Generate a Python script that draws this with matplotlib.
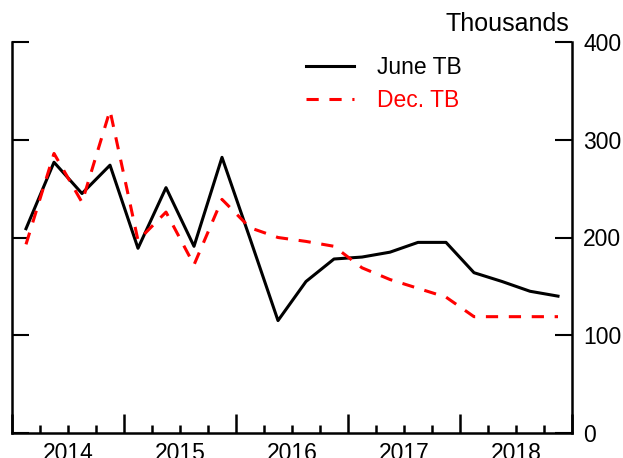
import matplotlib.pyplot as plt
from matplotlib.transforms import blended_transform_factory

plt.rcParams['font.family'] = ['Liberation Sans', 'DejaVu Sans']

# quarterly values, 2014Q1 .. 2018Q4 (thousands)
quarters = [2014 + (i + 0.5) / 4 for i in range(20)]
june_tb = [209, 277, 245, 274, 189, 251, 191, 282, 199, 115,
           155, 178, 180, 185, 195, 195, 164, 155, 145, 140]
dec_tb = [193, 286, 236, 330, 197, 226, 172, 239, 210, 200,
          196, 191, 169, 157, 148, 139, 119, 119, 119, 119]
years = [2014, 2015, 2016, 2017, 2018]

fig = plt.figure(figsize=(6.23, 4.58), dpi=100)
ax = fig.add_axes([12 / 623, 25 / 458, 560 / 623, 391 / 458])

ax.plot(quarters, june_tb, color='black', lw=2.2, label='June TB')
ax.plot(quarters, dec_tb, color='red', lw=2.2, dashes=(4, 3.5), label='Dec. TB')

ax.set_xlim(2014, 2019)
ax.set_ylim(0, 400)
ax.spines['top'].set_visible(False)
for s in ['left', 'right', 'bottom']:
    ax.spines[s].set_linewidth(1.8)

ax.set_xticks(list(range(2014, 2020)))
ax.set_xticks([2014 + q / 4 for q in range(21)], minor=True)
ax.set_xticklabels([])
ax.tick_params(axis='x', which='major', direction='in', length=14, width=1.8)
ax.tick_params(axis='x', which='minor', direction='in', length=6, width=1.8)

ax.set_yticks([0, 100, 200, 300, 400])
ax.tick_params(axis='y', direction='in', length=12, width=1.5, left=True, right=True,
               labelleft=False, labelright=True, labelsize=16.5, pad=8)

tr = blended_transform_factory(ax.transData, ax.transAxes)
for y in years:
    ax.text(y + 0.5, -0.022, str(y), transform=tr, ha='center', va='top', fontsize=16.5)

ax.text(0.995, 1.015, 'Thousands', transform=ax.transAxes, ha='right', va='bottom', fontsize=18)

leg = ax.legend(loc='upper left', bbox_to_anchor=(0.5, 1.0), frameon=False, fontsize=16.5,
                handlelength=2.1, handletextpad=1.0, labelspacing=0.45, borderaxespad=0.2)
leg.get_texts()[1].set_color('red')

fig.savefig('out.png', dpi=100)
